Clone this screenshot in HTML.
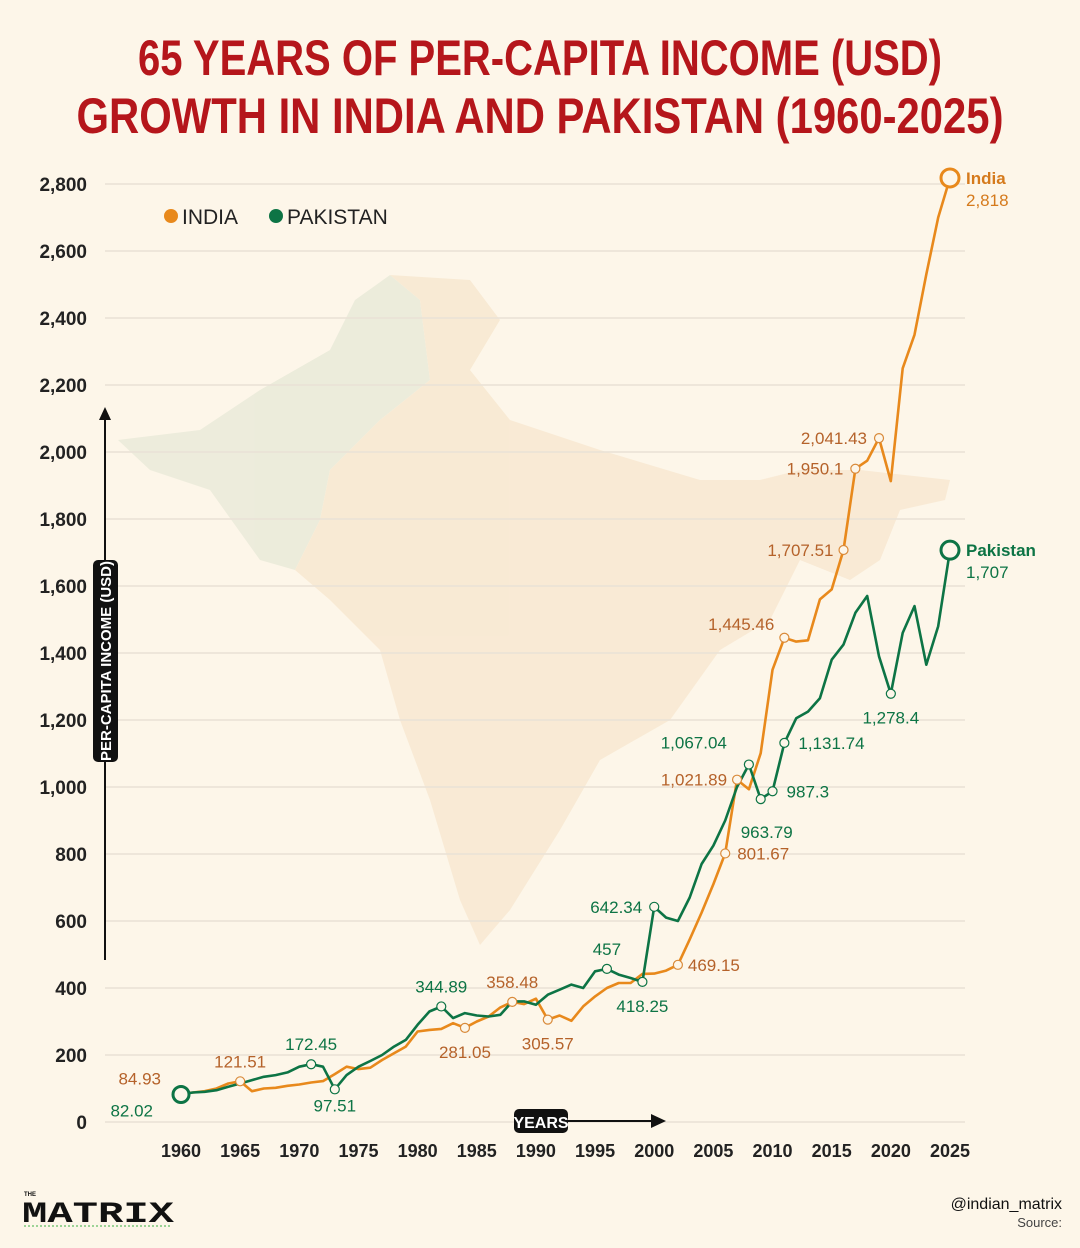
<!DOCTYPE html>
<html><head><meta charset="utf-8">
<style>
html,body{margin:0;padding:0;background:#fdf6e9;}
svg{display:block;font-family:"Liberation Sans",sans-serif;}
</style></head>
<body>
<svg id="chart" width="1080" height="1248" viewBox="0 0 1080 1248" xmlns="http://www.w3.org/2000/svg">
<rect width="1080" height="1248" fill="#fdf6e9"/>
<g opacity="0.7">
<path d="M118,440 L200,430 L260,390 L330,350 L355,300 L390,275 L420,300 L430,380 L380,420 L330,470 L320,520 L295,570 L260,560 L210,490 L150,470 Z" fill="#e6e8d6"/>
<path d="M390,275 L470,280 L500,320 L470,370 L510,420 L600,450 L700,480 L760,480 L800,470 L860,470 L950,480 L945,500 L900,510 L880,560 L850,580 L800,560 L770,620 L720,650 L670,720 L600,760 L560,830 L510,910 L480,945 L460,900 L430,800 L400,720 L380,650 L330,600 L295,570 L320,520 L330,470 L380,420 L430,380 L420,300 Z" fill="#f7e6cc"/>
</g>
<text x="540" y="75" text-anchor="middle" textLength="804" lengthAdjust="spacingAndGlyphs" font-family="'Liberation Sans Narrow','Liberation Sans',sans-serif" font-weight="bold" font-size="50" fill="#b5161b">65 YEARS OF PER-CAPITA INCOME (USD)</text>
<text x="540" y="133" text-anchor="middle" textLength="927" lengthAdjust="spacingAndGlyphs" font-family="'Liberation Sans Narrow','Liberation Sans',sans-serif" font-weight="bold" font-size="50" fill="#b5161b">GROWTH IN INDIA AND PAKISTAN (1960-2025)</text>
<g id="grid"></g>
<g id="axes"></g>
<g id="series"></g>
<g id="labels"></g>
<g>
<circle cx="171" cy="216" r="7" fill="#e8891c"/>
<text x="182" y="224" font-size="21" fill="#222">INDIA</text>
<circle cx="276" cy="216" r="7" fill="#0d7445"/>
<text x="287" y="224" font-size="21" fill="#222">PAKISTAN</text>
</g>
<g>
<line x1="105" y1="960" x2="105" y2="418" stroke="#111" stroke-width="2"/>
<path d="M99,420 L105,407 L111,420 Z" fill="#111"/>
<rect x="93" y="560" width="25" height="202" rx="5" fill="#111"/>
<text transform="translate(111,661) rotate(-90)" text-anchor="middle" font-family="'Liberation Sans Narrow','Liberation Sans',sans-serif" font-weight="bold" font-size="15" fill="#fff">PER-CAPITA INCOME (USD)</text>
</g>
<g>
<line x1="567" y1="1121" x2="652" y2="1121" stroke="#111" stroke-width="2"/>
<path d="M651,1114 L666,1121 L651,1128 Z" fill="#111"/>
<rect x="514" y="1109" width="54" height="24" rx="5" fill="#111"/>
<text x="541" y="1128" text-anchor="middle" font-family="'Liberation Sans Narrow','Liberation Sans',sans-serif" font-weight="bold" font-size="16" fill="#fff">YEARS</text>
</g>
<g>
<text x="24" y="1196" font-size="6" font-weight="bold" fill="#111">THE</text>
<text x="22" y="1222" font-family="'Liberation Mono',monospace" font-weight="bold" font-size="30" fill="#111" textLength="152" lengthAdjust="spacingAndGlyphs">MATRIX</text>
<line x1="24" y1="1226" x2="172" y2="1226" stroke="#3cb043" stroke-width="1" stroke-dasharray="2,2"/>
</g>
<text x="1062" y="1209" text-anchor="end" font-size="16" fill="#111">@indian_matrix</text>
<text x="1062" y="1227" text-anchor="end" font-size="13" fill="#444">Source:</text>
</svg>
<script>
const years = [];
for (let y = 1960; y <= 2025; y++) years.push(y);
const india = [85,88,92,100,115,121.51,92,100,102,108,112,118,122,143,165,158,162,185,205,225,270,275,278,295,281.05,300,315,342,358.48,352,368,305.57,318,302,345,375,400,415,415,442,443,452,469.15,545,625,710,801.67,1021.89,993,1101,1350,1445.46,1434,1438,1560,1590,1707.51,1950.1,1974,2041.43,1913,2250,2350,2530,2700,2818];
const pakistan = [82.02,88,90,95,105,115,125,135,140,148,165,172.45,165,97.51,140,165,182,200,225,245,290,330,344.89,310,325,318,315,320,360,360,350,380,395,410,400,450,457,440,430,418.25,642.34,610,600,670,770,825,900,1000,1067.04,963.79,987.3,1131.74,1205,1225,1265,1380,1425,1520,1570,1390,1278.4,1460,1540,1365,1480,1707];
const yTicks = [0,200,400,600,800,1000,1200,1400,1600,1800,2000,2200,2400,2600,2800];
const xTicks = [1960,1965,1970,1975,1980,1985,1990,1995,2000,2005,2010,2015,2020,2025];
const indiaLabelYears = [1960,1965,1984,1988,1991,2002,2006,2007,2011,2016,2017,2019];
const indiaLabelText = ["84.93","121.51","281.05","358.48","305.57","469.15","801.67","1,021.89","1,445.46","1,707.51","1,950.1","2,041.43"];
const pakLabelYears = [1960,1971,1973,1982,1996,1999,2000,2008,2009,2010,2011,2020];
const pakLabelText = ["82.02","172.45","97.51","344.89","457","418.25","642.34","1,067.04","963.79","987.3","1,131.74","1,278.4"];

const NS = "http://www.w3.org/2000/svg";
const X = yr => 181 + (yr - 1960) * (769 / 65);
const Y = v => 1122 - v * (938 / 2800);
function mk(tag, attrs, parent, txt) {
  const el = document.createElementNS(NS, tag);
  for (const k in attrs) el.setAttribute(k, attrs[k]);
  if (txt !== undefined) el.textContent = txt;
  parent.appendChild(el);
  return el;
}
const grid = document.getElementById('grid'), axes = document.getElementById('axes');
const series = document.getElementById('series'), labels = document.getElementById('labels');
yTicks.forEach(t => {
  const l = mk('line', {x1:105, x2:965, y1:Y(t), y2:Y(t), stroke:'#e9e1d6', 'stroke-width':1.5}, grid);
  
  
  const tx = mk('text', {x:87, y:Y(t)+7, 'text-anchor':'end', 'font-size':19, 'font-weight':'bold', fill:'#222'}, axes, t.toLocaleString('en-US'));
  
  
});
xTicks.forEach(t => {
  const tx = mk('text', {x:X(t), y:1157, 'text-anchor':'middle', 'font-size':18, 'font-weight':'bold', fill:'#222'}, axes, String(t));
  
  
});
function drawLine(vals, color, name) {
  const d = vals.map((v, i) => (i ? 'L' : 'M') + X(years[i]).toFixed(1) + ',' + Y(v).toFixed(1)).join(' ');
  const p = mk('path', {d, fill:'none', stroke:color, 'stroke-width':2.6, 'stroke-linejoin':'round'}, series);
  
  
}
drawLine(india, '#e8891c', 'india-line');
drawLine(pakistan, '#0d7445', 'pakistan-line');
function drawLabels(ys, txts, vals, color, textColor, offs, name) {
  ys.forEach((yr, k) => {
    const v = vals[years.indexOf(yr)];
    const c = mk('circle', {cx:X(yr), cy:Y(v), r:4.5, fill:'#fdf6e9', stroke:color, 'stroke-width':1.2}, labels);
    
    
    const o = offs[k];
    const t = mk('text', {x:X(yr)+o[0], y:Y(v)+o[1], 'text-anchor':o[2], 'font-size':17, fill:textColor}, labels, txts[k]);
    
    
  });
}
drawLabels(indiaLabelYears, indiaLabelText, india, '#d98a3a', '#b5622a',
 [[-20,-9,'end'],[0,-14,'middle'],[0,30,'middle'],[0,-14,'middle'],[0,30,'middle'],[10,6,'start'],[12,6,'start'],[-10,6,'end'],[-10,-8,'end'],[-10,6,'end'],[-12,6,'end'],[-12,6,'end']], 'india');
drawLabels(pakLabelYears, pakLabelText, pakistan, '#0d7445', '#0d7445',
 [[-28,22,'end'],[0,-14,'middle'],[0,22,'middle'],[0,-14,'middle'],[0,-14,'middle'],[0,30,'middle'],[-12,6,'end'],[-22,-16,'end'],[-20,39,'start'],[14,6,'start'],[14,6,'start'],[0,30,'middle']], 'pakistan');
[[india,'#e8891c','India','2,818','#d57a1c'],[pakistan,'#0d7445','Pakistan','1,707','#0d7445']].forEach(([vals,col,nm,val,tc]) => {
  const v = vals[vals.length-1], x = X(2025), y = Y(v);
  const c = mk('circle', {cx:x, cy:y, r:9, fill:'#fdf6e9', stroke:col, 'stroke-width':3}, labels);
  
  
  const t1 = mk('text', {x:x+16, y:y+6, 'font-size':17, 'font-weight':'bold', fill:tc}, labels, nm);
  
  
  const t2 = mk('text', {x:x+16, y:y+28, 'font-size':17, fill:tc}, labels, val);
  
  
});
const sc = mk('circle', {cx:X(1960), cy:Y(pakistan[0]), r:8, fill:'#fdf6e9', stroke:'#0d7445', 'stroke-width':3}, labels);


</script>
</body></html>
